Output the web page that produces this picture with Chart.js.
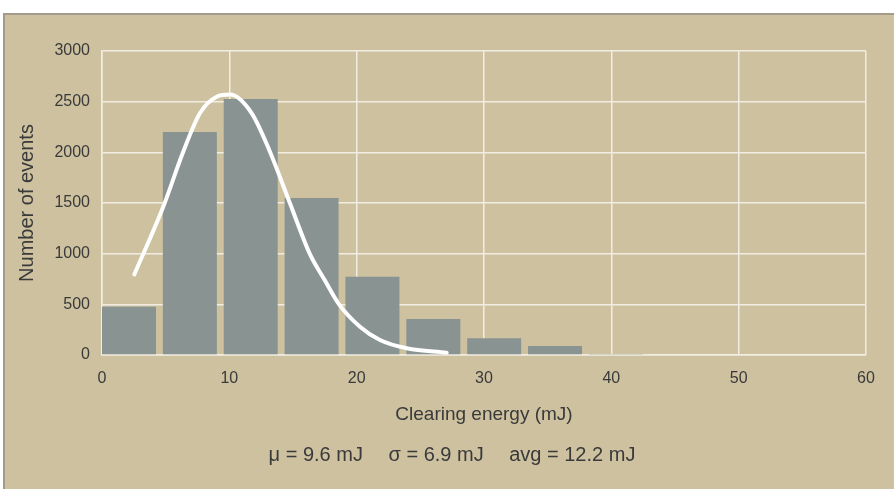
<!DOCTYPE html>
<html><head><meta charset="utf-8">
<script src="https://cdn.jsdelivr.net/npm/chart.js@4.4.0/dist/chart.umd.min.js"></script>
<style>
html,body{margin:0;padding:0;background:#fff;width:894px;height:489px;overflow:hidden}
#bg{position:absolute;left:3px;top:12.5px;width:891px;height:477px;background:#CDC1A0;border-top:2px solid #A39A8B;border-left:2px solid #A39A8B;box-sizing:border-box}
canvas{position:absolute;left:0;top:0}
</style></head><body>
<div id="bg"></div>
<canvas id="c" width="894" height="489"></canvas>
<script>
// Histogram bins (bin centres, mJ) and counts
const binCenters = [2.12, 6.9, 11.68, 16.46, 21.24, 26.02, 30.8, 35.58, 40.36];
const binCounts  = [477, 2200, 2526, 1550, 773, 355, 165, 89, 10];
// Fitted curve
const curveX = [2.54, 4.81, 6.38, 7.70, 9.01, 10.05, 11.76, 13.19, 14.76, 16.33, 17.51, 18.56, 20.26, 21.83, 23.93, 27.07];
const curveY = [796, 1463, 2006, 2388, 2549, 2570, 2385, 2006, 1497, 995, 735, 510, 279, 148, 66, 23];
// Axis ticks
const xTicks = [0, 10, 20, 30, 40, 50, 60];
const yTicks = [0, 500, 1000, 1500, 2000, 2500, 3000];
const xTitle = 'Clearing energy (mJ)';
const yTitle = 'Number of events';
const statsText = 'μ = 9.6 mJ\u2003 σ = 6.9 mJ\u2003 avg = 12.2 mJ';

const FONT = '"Liberation Sans", Arial, Helvetica, sans-serif';
const TEXT = '#3a3a3a';
const GRID = '#F1EDE2';

const statsPlugin = {
  id: 'stats',
  afterDraw(chart) {
    const ctx = chart.ctx;
    ctx.save();
    ctx.font = '20px ' + FONT;
    ctx.fillStyle = TEXT;
    ctx.textAlign = 'center';
    ctx.textBaseline = 'middle';
    ctx.fillText(statsText, 452, 455);
    ctx.restore();
  }
};

new Chart(document.getElementById('c'), {
  type: 'bar',
  data: {
    datasets: [
      {
        type: 'line',
        order: 0,
        data: curveX.map((x, i) => ({x: x, y: curveY[i]})),
        borderColor: '#ffffff',
        borderWidth: 4,
        borderCapStyle: 'round',
        borderJoinStyle: 'round',
        pointRadius: 0,
        fill: false,
        cubicInterpolationMode: 'monotone'
      },
      {
        type: 'bar',
        order: 1,
        data: binCenters.map((x, i) => ({x: x, y: binCounts[i]})),
        backgroundColor: '#899392',
        borderWidth: 0,
        barPercentage: 0.887,
        categoryPercentage: 1.0
      }
    ]
  },
  options: {
    responsive: false,
    animation: false,
    devicePixelRatio: 1,
    layout: {padding: {left: 0, right: 28, top: 51, bottom: 58.6}},
    plugins: {legend: {display: false}, tooltip: {enabled: false}},
    scales: {
      x: {
        type: 'linear',
        min: 0, max: 60,
        offset: false,
        grid: {offset: false, color: GRID, lineWidth: 1.5, drawTicks: false},
        border: {display: true, color: GRID, width: 1.5},
        afterBuildTicks: s => { s.ticks = xTicks.map(v => ({value: v})); },
        afterFit: s => { s.height = 75.4; },
        ticks: {color: TEXT, font: {family: FONT, size: 16}, padding: 14, maxRotation: 0, callback: v => String(v)},
        title: {display: true, text: xTitle, color: TEXT, font: {family: FONT, size: 19}, padding: {top: 4, bottom: 4}}
      },
      y: {
        type: 'linear',
        min: 0, max: 3000,
        grid: {color: GRID, lineWidth: 1.5, drawTicks: false},
        border: {display: true, color: GRID, width: 1.5},
        afterBuildTicks: s => { s.ticks = yTicks.map(v => ({value: v})); },
        afterFit: s => { s.width = 102; },
        ticks: {color: TEXT, font: {family: FONT, size: 16}, padding: 12, callback: v => String(v)},
        title: {display: true, text: yTitle, color: TEXT, font: {family: FONT, size: 20}, padding: {top: 15, bottom: 0}}
      }
    }
  },
  plugins: [statsPlugin]
});
</script>
</body></html>
